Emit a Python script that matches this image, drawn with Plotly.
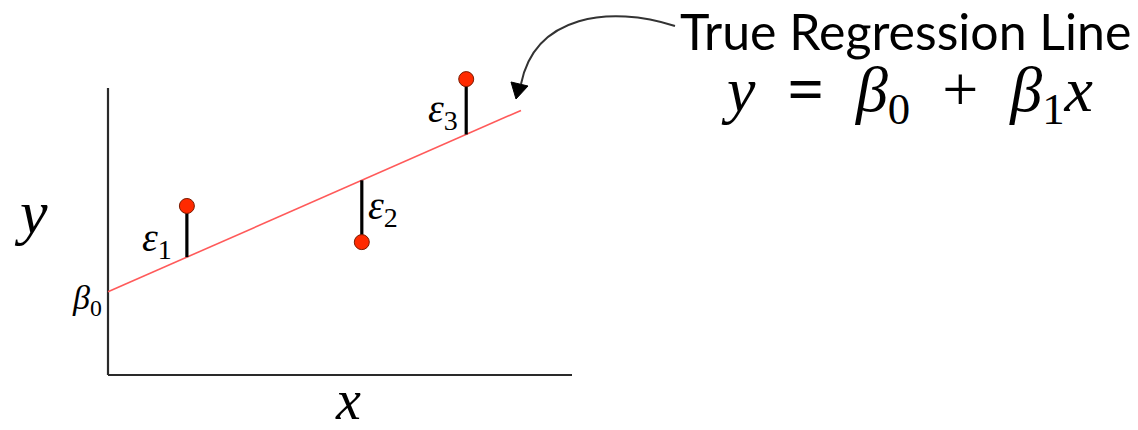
import plotly.graph_objects as go

# ---- data (diagram units) ----
beta0 = 2.9          # intercept
beta1 = 0.71         # slope
line_x = [0.0, 8.9]  # extent of the true regression line
obs_x = [1.70, 5.47, 7.72]
obs_y = [5.89, 4.63, 10.31]
eps_labels = ["1", "2", "3"]
axis_len_x = 10.0
axis_len_y = 10.0

# ---- derived ----
line_y = [beta0 + beta1 * x for x in line_x]
fit_y = [beta0 + beta1 * x for x in obs_x]

res_x, res_y = [], []
for xi, yi, fi in zip(obs_x, obs_y, fit_y):
    res_x += [xi, xi, None]
    res_y += [yi, fi, None]

PAD = 8                       # page body margin of the browser
W, H = 1138 - PAD, 430 - PAD
ux, uy = 46.4, 28.7           # pixels per unit
ox, oy = 108 - PAD, 375 - PAD  # origin in figure pixels
xr = [-ox / ux, (W - ox) / ux]
yr = [-(H - oy) / uy, oy / uy]


def px(x, y):
    """screen pixel position -> diagram units (for decorations only)"""
    return (x - PAD - ox) / ux, (oy - (y - PAD)) / uy


fig = go.Figure()

fig.add_trace(go.Scatter(x=line_x, y=line_y, mode="lines",
                         line=dict(color="#ff5a5a", width=1.6),
                         hoverinfo="skip", showlegend=False))
fig.add_trace(go.Scatter(x=res_x, y=res_y, mode="lines",
                         line=dict(color="#000000", width=3.2),
                         hoverinfo="skip", showlegend=False))
fig.add_trace(go.Scatter(x=obs_x, y=obs_y, mode="markers",
                         marker=dict(size=15, color="#ff2a00",
                                     line=dict(color="#7a1a00", width=1)),
                         cliponaxis=False, hoverinfo="skip", showlegend=False))

for x0, y0, x1, y1 in [(0, 0, axis_len_x, 0), (0, 0, 0, axis_len_y)]:
    fig.add_shape(type="line", x0=x0, y0=y0, x1=x1, y1=y1, xref="x", yref="y",
                  line=dict(color="#2a2a2a", width=2.2), layer="below")

serif = "Times New Roman"

def ann(x, y, text, size, xanchor="center", yanchor="middle", family=serif, color="#000000"):
    fig.add_annotation(x=x, y=y, xref="x", yref="y", text=text, showarrow=False,
                       xanchor=xanchor, yanchor=yanchor, borderpad=0,
                       font=dict(family=family, size=size, color=color))

ax_, ay_ = px(31, 212)
ann(ax_, ay_, "<i>y</i>", 62)
bx, by = px(348, 400)
ann(bx, by, "<i>x</i>", 56)
b0x, b0y = px(103, 300)
ann(b0x, b0y, "<i>β</i><sub>0</sub>", 34, xanchor="right")

e_pos = [(px(173, 240), "right"), (px(367, 208), "left"), (px(459, 111), "right")]
for (pos, anc), lab in zip(e_pos, eps_labels):
    ann(pos[0], pos[1], "<i>ε</i><sub>%s</sub>" % lab, 40, xanchor=anc)

tx, ty = px(679, 31)
ann(tx, ty, "True Regression Line", 50, xanchor="left", family="Lato")
nb = "\u00a0"
eqx, eqy = px(907, 94)
ann(eqx, eqy,
    "<i>y</i>" + nb * 2 + "<b>=</b>" + nb * 2 + "<i>β</i><sub>0</sub>" + nb * 2 + "+" + nb * 2
    + "<i>β</i><sub>1</sub><i>x</i>", 64)

p0 = px(675, 26); c1 = px(610, 5); c2 = px(535, 15); p1 = px(521, 84)
fig.add_shape(type="path", xref="x", yref="y",
              path="M %f,%f C %f,%f %f,%f %f,%f" % (*p0, *c1, *c2, *p1),
              line=dict(color="#333333", width=2))
h1 = px(511, 82); h2 = px(528, 86); h3 = px(516, 99)
fig.add_shape(type="path", xref="x", yref="y",
              path="M %f,%f L %f,%f L %f,%f Z" % (*h1, *h2, *h3),
              line=dict(color="#000000", width=1), fillcolor="#000000")

fig.update_layout(
    width=W, height=H,
    margin=dict(l=0, r=0, t=0, b=0),
    paper_bgcolor="white", plot_bgcolor="white",
    xaxis=dict(range=xr, visible=False, fixedrange=True),
    yaxis=dict(range=yr, visible=False, fixedrange=True),
)

fig.write_html("out.html")
